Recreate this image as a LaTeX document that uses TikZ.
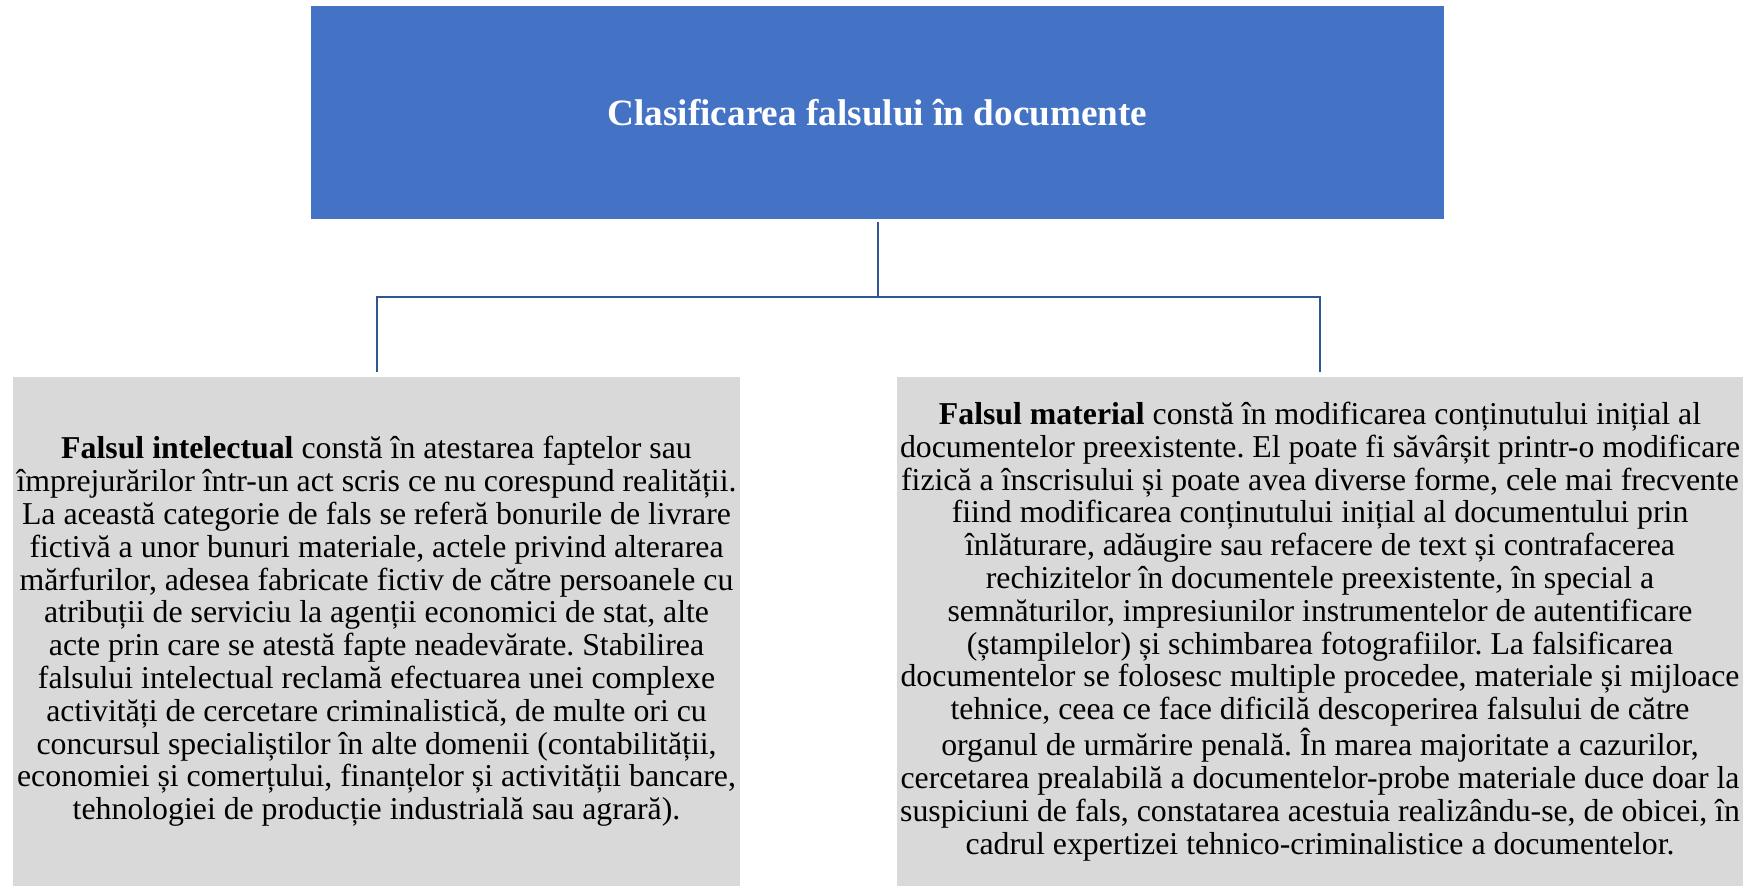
\documentclass[tikz,border=0pt]{standalone}
\usepackage{fontspec}
\setmainfont{Liberation Serif}
\frenchspacing
\definecolor{topblue}{HTML}{4472C4}
\definecolor{boxgray}{HTML}{D9D9D9}
\definecolor{linkblue}{HTML}{2F5597}
\begin{document}
\begin{tikzpicture}[x=0.5pt,y=-0.5pt,
  titlebox/.style={fill=topblue,draw=none,inner sep=0pt,minimum width=566.5pt,minimum height=106.5pt,text=white,font=\fontsize{18.6}{20}\selectfont\bfseries,align=center},
  textbox/.style={fill=boxgray,draw=none,inner sep=0pt,minimum height=254.5pt,align=center,font=\fontsize{15.9}{16.4}\selectfont},
  link/.style={draw=linkblue,line width=1pt}]
\useasboundingbox (0,0) rectangle (1754,886);
\node[titlebox] (top) at (877.5,112.5) {Clasificarea falsului în documente};
\node[textbox,minimum width=363.5pt] (left) at (376.5,631.5) {\textbf{Falsul intelectual} constă în atestarea faptelor sau\\
împrejurărilor într-un act scris ce nu corespund realității.\\
La această categorie de fals se referă bonurile de livrare\\
fictivă a unor bunuri materiale, actele privind alterarea\\
mărfurilor, adesea fabricate fictiv de către persoanele cu\\
atribuții de serviciu la agenții economici de stat, alte\\
acte prin care se atestă fapte neadevărate. Stabilirea\\
falsului intelectual reclamă efectuarea unei complexe\\
activități de cercetare criminalistică, de multe ori cu\\
concursul specialiștilor în alte domenii (contabilității,\\
economiei și comerțului, finanțelor și activității bancare,\\
tehnologiei de producție industrială sau agrară).};
\node[textbox,minimum width=423pt] (right) at (1320,631.5) {\textbf{Falsul material} constă în modificarea conținutului inițial al\\
documentelor preexistente. El poate fi săvârșit printr-o modificare\\
fizică a înscrisului și poate avea diverse forme, cele mai frecvente\\
fiind modificarea conținutului inițial al documentului prin\\
înlăturare, adăugire sau refacere de text și contrafacerea\\
rechizitelor în documentele preexistente, în special a\\
semnăturilor, impresiunilor instrumentelor de autentificare\\
(ștampilelor) și schimbarea fotografiilor. La falsificarea\\
documentelor se folosesc multiple procedee, materiale și mijloace\\
tehnice, ceea ce face dificilă descoperirea falsului de către\\
organul de urmărire penală. În marea majoritate a cazurilor,\\
cercetarea prealabilă a documentelor-probe materiale duce doar la\\
suspiciuni de fals, constatarea acestuia realizându-se, de obicei, în\\
cadrul expertizei tehnico-criminalistice a documentelor.};
\coordinate (j) at (877.5,297.5);
\draw[link] ([yshift=-1.5pt]top.south) -- (top.south |- j);
\draw[link] ([yshift=2.5pt]left.north) -- (left.north |- j) -- (right.north |- j) -- ([yshift=2.5pt]right.north);
\end{tikzpicture}
\end{document}
